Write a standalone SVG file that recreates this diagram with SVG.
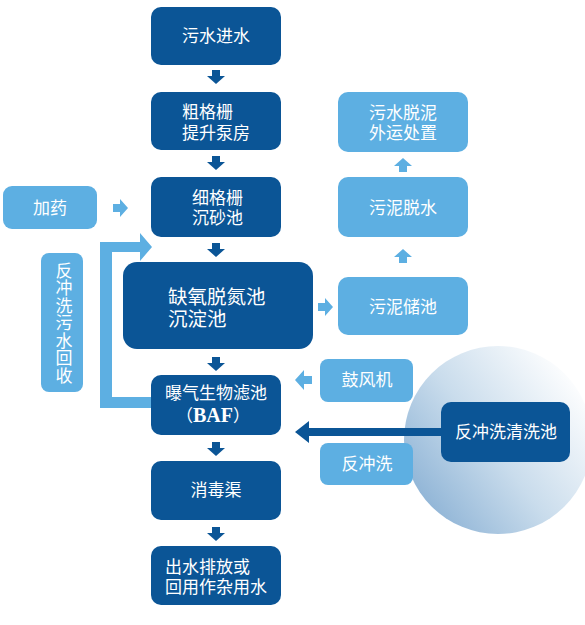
<svg xmlns="http://www.w3.org/2000/svg" width="585" height="625" viewBox="0 0 585 625">
<defs>
<linearGradient id="circ" x1="0.1" y1="0.85" x2="0.95" y2="0.2">
<stop offset="0" stop-color="#8fb4d6"/>
<stop offset="0.45" stop-color="#c9dcec"/>
<stop offset="1" stop-color="#ffffff"/>
</linearGradient>
<style>
.dk{fill:#0b5596}
.lt{fill:#5dafe2}
.ad{fill:#0b5596}
.al{fill:#5dafe2}
text{font-family:"Liberation Sans","Noto Sans CJK SC","Noto Sans CJK TC",sans-serif;font-size:17px;fill:#ffffff}
.big{font-size:19.5px}
.baf{font-family:"Liberation Serif",serif;font-weight:bold;font-size:20px}
.vt{writing-mode:vertical-rl;letter-spacing:0.5px}
</style>
</defs>
<rect width="585" height="625" fill="#ffffff"/>
<circle cx="498" cy="440" r="94" fill="url(#circ)"/>

<g id="connectors">
<path class="ad" d="M212 70h8v6h5l-9 8-9-8h5z"/>
<path class="ad" d="M212 156h8v6h5l-9 8-9-8h5z"/>
<path class="ad" d="M212 243h8v6h5l-9 8-9-8h5z"/>
<path class="ad" d="M212 357h8v6h5l-9 8-9-8h5z"/>
<path class="ad" d="M212 442h8v6h5l-9 8-9-8h5z"/>
<path class="ad" d="M212 527h8v6h5l-9 8-9-8h5z"/>
<path class="al" d="M399 172h8v-6h5l-9-8-9 8h5z"/>
<path class="al" d="M399 263h8v-6h5l-9-8-9 8h5z"/>
<path class="al" d="M113 204h7v-5l8 9-8 9v-5h-7z"/>
<path class="al" d="M318 303h7v-5l8 9-8 9v-5h-7z"/>
<path class="al" d="M312 376h-8v-6l-9 10 9 10v-6h8z"/>
<path class="ad" d="M441 428h-132v-7l-14 11 14 11v-7h132z"/>
<path class="al" d="M152 408h-52v-166h40v-9l12 14-12 14v-9h-28v145h40z"/>
</g>

<g id="n1"><rect class="dk" x="151" y="7" width="130" height="58" rx="10"/><text x="216" y="42" text-anchor="middle">污水进水</text></g>
<g id="n2"><rect class="dk" x="151" y="92" width="130" height="58" rx="10"/><text x="182" y="118">粗格栅<tspan x="182" dy="21">提升泵房</tspan></text></g>
<g id="n3"><rect class="dk" x="151" y="177" width="130" height="60" rx="10"/><text x="192" y="204">细格栅<tspan x="192" dy="20">沉砂池</tspan></text></g>
<g id="n4"><rect class="dk" x="123" y="262" width="190" height="87" rx="14"/><text class="big" x="168" y="304">缺氧脱氮池<tspan x="168" dy="22">沉淀池</tspan></text></g>
<g id="n5"><rect class="dk" x="151" y="375" width="130" height="60" rx="10"/><text x="216" y="399" text-anchor="middle">曝气生物滤池<tspan x="213" dy="23">（</tspan><tspan class="baf">BAF</tspan><tspan>）</tspan></text></g>
<g id="n6"><rect class="dk" x="151" y="461" width="130" height="59" rx="10"/><text x="216" y="496" text-anchor="middle">消毒渠</text></g>
<g id="n7"><rect class="dk" x="151" y="546" width="130" height="59" rx="10"/><text x="165" y="573">出水排放或<tspan x="165" dy="20">回用作杂用水</tspan></text></g>

<g id="n8"><rect class="lt" x="3" y="186" width="94" height="43" rx="9"/><text x="50" y="214" text-anchor="middle">加药</text></g>
<g id="n9"><rect class="lt" x="41" y="253" width="42" height="139" rx="8"/>
<text class="vt" x="62" y="262">反冲洗污水回收</text></g>

<g id="n10"><rect class="lt" x="338" y="92" width="130" height="60" rx="10"/><text x="403" y="119" text-anchor="middle">污水脱泥<tspan x="403" dy="20">外运处置</tspan></text></g>
<g id="n11"><rect class="lt" x="338" y="177" width="130" height="60" rx="10"/><text x="403" y="214" text-anchor="middle">污泥脱水</text></g>
<g id="n12"><rect class="lt" x="338" y="277" width="130" height="58" rx="10"/><text x="403" y="313" text-anchor="middle">污泥储池</text></g>

<g id="n13"><rect class="lt" x="320" y="359" width="93" height="43" rx="8"/><text x="367" y="386" text-anchor="middle">鼓风机</text></g>
<g id="n14"><rect class="lt" x="320" y="443" width="93" height="42" rx="8"/><text x="367" y="470" text-anchor="middle">反冲洗</text></g>
<g id="n15"><rect class="dk" x="441" y="402" width="129" height="60" rx="10"/><text x="506" y="438" text-anchor="middle">反冲洗清洗池</text></g>
</svg>
